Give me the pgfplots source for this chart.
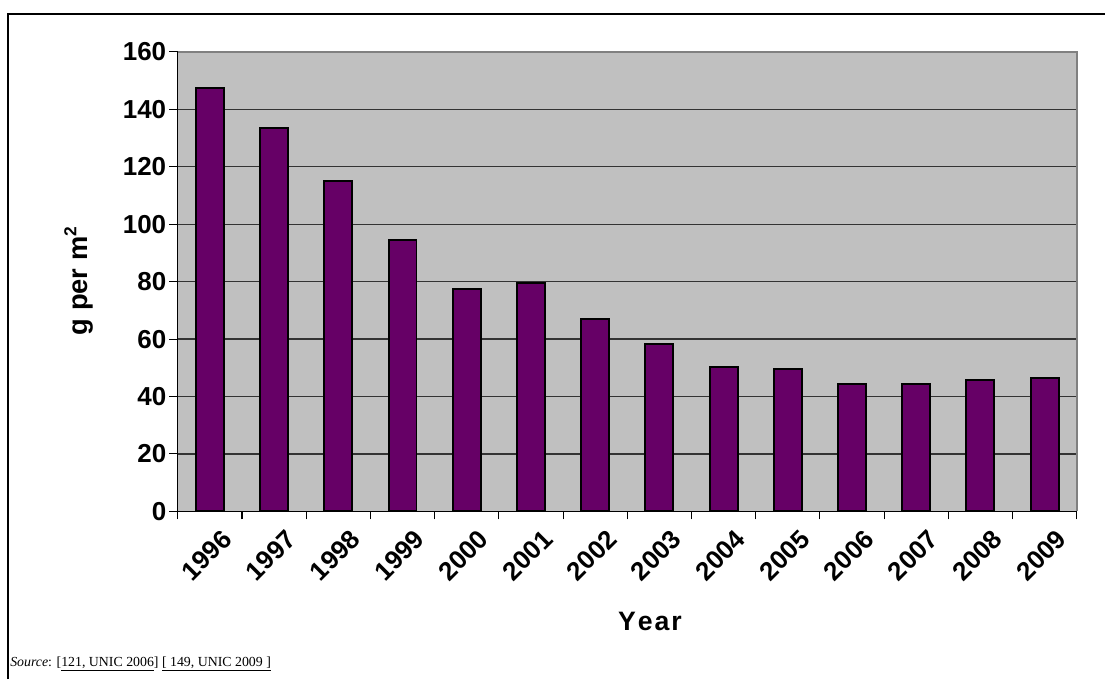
\documentclass[border=0pt]{standalone}
\usepackage{pgfplots}
\pgfplotsset{compat=1.18}
\usepackage{fontspec}
\setmainfont{Liberation Sans}
\newfontfamily\seriffont{Liberation Serif}
\definecolor{barpurple}{HTML}{660066}
\definecolor{plotgray}{HTML}{C0C0C0}
\begin{document}
\begin{tikzpicture}
\path (0,0) rectangle (829.5pt,510pt);
\draw[line width=2pt] (6pt,0) -- (6pt,499.5pt) -- (829.5pt,499.5pt);
\begin{axis}[
  at={(133.5pt,126pt)}, anchor=south west,
  scale only axis, width=675pt, height=345pt,
  xmin=-0.5, xmax=13.5, ymin=0, ymax=160,
  axis x line*=bottom, axis y line*=left,
  axis line style={-, black, line width=1pt},
  ytick={0,20,...,160},
  xtick={0,...,13},
  xticklabels={1996,1997,1998,1999,2000,2001,2002,2003,2004,2005,2006,2007,2008,2009},
  minor xtick={-0.5,0.5,...,13.5},
  major x tick style={draw=none},
  tick style={black, line width=0.8pt},
  tick align=outside, major tick length=6.5pt, minor tick length=6pt,
  ymajorgrids, grid style={black!80, line width=0.9pt},
  axis background/.style={fill=plotgray},
  ybar, bar width=21pt,
  /pgf/number format/assume math mode=true,
  tick label style={font=\bfseries\fontsize{19.5}{20}\selectfont},
  yticklabel style={inner sep=2pt},
  xticklabel style={xshift=8pt, yshift=-6pt, rotate=45, anchor=north east, inner sep=0pt},
  clip=false,
]
\addplot[fill=barpurple, draw=black, line width=1.5pt] coordinates {
(0,147.5) (1,133.4) (2,115.0) (3,94.4) (4,77.4) (5,79.6) (6,67.1)
(7,58.3) (8,50.2) (9,49.5) (10,44.3) (11,44.3) (12,45.8) (13,46.6)};
\draw[gray, line width=1.2pt] (rel axis cs:0,1) -- (rel axis cs:1,1) -- (rel axis cs:1,0);
\end{axis}
\node[rotate=90, font=\bfseries\fontsize{20.5}{21}\selectfont] at (59pt,299pt) {g per m\raisebox{0.75ex}{\fontsize{13}{13}\selectfont 2}};
\node[font=\bfseries\fontsize{20}{21}\selectfont] at (488pt,43.5pt) {Y\kern1.5pt e\kern1.5pt a\kern1.5pt r};
\node[anchor=base west, inner sep=0pt, font=\seriffont\fontsize{10.4}{12}\selectfont] at (7.5pt,9.75pt) {\textit{Source}: [\underline{121, UNIC 2006}] \underline{[ 149, UNIC 2009 ]}};
\end{tikzpicture}
\end{document}
